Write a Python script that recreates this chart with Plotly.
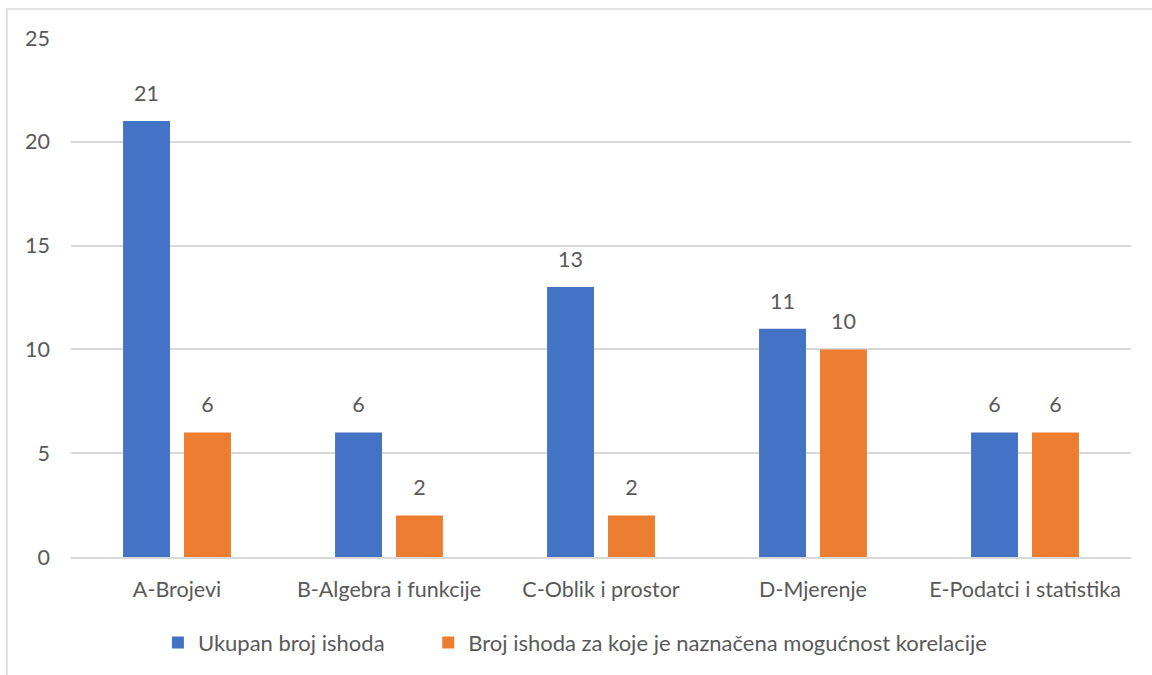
import plotly.graph_objects as go

categories = ["A-Brojevi", "B-Algebra i funkcije", "C-Oblik i prostor", "D-Mjerenje", "E-Podatci i statistika"]
ukupno = [21, 6, 13, 11, 6]
korelacija = [6, 2, 2, 10, 6]
series_names = ["Ukupan broj ishoda", "Broj ishoda za koje je naznačena mogućnost korelacije"]
y_ticks = [0, 5, 10, 15, 20, 25]

BLUE = "#4472c4"
ORANGE = "#ed7d31"
GREY_TXT = "#595959"
GRID = "#d9d9d9"
FONT = "Lato, 'Open Sans', sans-serif"
FS = 21.5

fig = go.Figure()
series = [(series_names[0], ukupno, BLUE, "g1", "legend"),
          (series_names[1], korelacija, ORANGE, "g2", "legend2")]
for name, vals, col, grp, leg in series:
    fig.add_trace(go.Bar(
        x=categories, y=vals, name=name, offsetgroup=grp, legend=leg,
        marker=dict(color=col, line=dict(width=0)),
    ))
# value labels, lifted a little above the bars like in Excel
for name, vals, col, grp, leg in series:
    fig.add_trace(go.Scatter(
        x=categories, y=vals, offsetgroup=grp, mode="markers+text",
        marker=dict(size=22, color="rgba(0,0,0,0)"),
        text=[str(v) for v in vals], textposition="top center",
        textfont=dict(size=FS, color=GREY_TXT, family=FONT),
        showlegend=False, hoverinfo="skip", cliponaxis=False,
    ))

leg_style = dict(orientation="h", xanchor="left", y=-0.163, yanchor="middle",
                 font=dict(size=22, color=GREY_TXT), itemwidth=30, bgcolor="rgba(0,0,0,0)")

fig.update_layout(
    width=1152, height=675,
    paper_bgcolor="white", plot_bgcolor="white",
    margin=dict(l=71, r=21, t=38, b=117),
    barmode="group", bargap=0.425, bargroupgap=0.23,
    scattermode="group", scattergap=0.425,
    font=dict(family=FONT, size=FS, color=GREY_TXT),
    showlegend=True,
    legend=dict(x=0.082, **leg_style),
    legend2=dict(x=0.337, **leg_style),
    xaxis=dict(showgrid=False, showline=True, linecolor=GRID, linewidth=1.5,
               ticks="", ticklabelstandoff=12, tickfont=dict(size=FS, color=GREY_TXT)),
    yaxis=dict(range=[0, 25], tickvals=y_ticks, showgrid=True, gridcolor=GRID, gridwidth=1.5,
               zeroline=False, showline=False, ticks="", ticklabelstandoff=20,
               tickfont=dict(size=FS, color=GREY_TXT)),
    shapes=[dict(type="rect", xref="paper", yref="paper", x0=-0.0604, x1=1.2, y0=-0.4, y1=1.0558,
                 line=dict(color=GRID, width=1.5), fillcolor="rgba(0,0,0,0)", layer="below")],
)

fig.write_html("out.html", config={"displayModeBar": False},
               post_script="document.body.style.margin='0px';")
